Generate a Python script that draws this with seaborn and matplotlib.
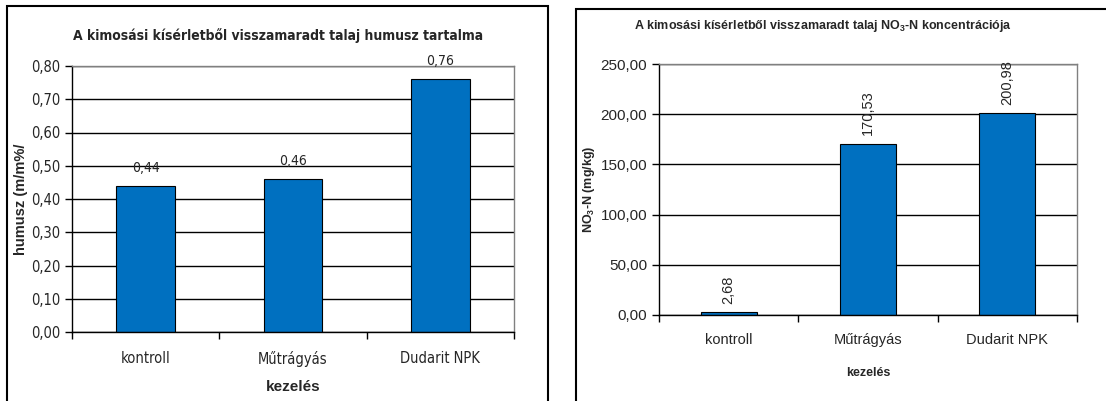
import matplotlib
matplotlib.use("Agg")
import matplotlib.pyplot as plt
from matplotlib import font_manager
from matplotlib.patches import Rectangle
from matplotlib.ticker import FuncFormatter, FixedLocator
import seaborn as sns

# --- data ---------------------------------------------------------------
treatments = ["kontroll", "Műtrágyás", "Dudarit NPK"]
humus = [0.44, 0.46, 0.76]
nitrate = [2.68, 170.53, 200.98]

humus_ticks = [0.0, 0.1, 0.2, 0.3, 0.4, 0.5, 0.6, 0.7, 0.8]
nitrate_ticks = [0, 50, 100, 150, 200, 250]

title_humus = "A kimosási kísérletből visszamaradt talaj humusz tartalma"
title_nitrate = r"A kimosási kísérletből visszamaradt talaj NO$_\mathbf{3}$-N koncentrációja"
ylabel_humus = "humusz (m/m%/"
ylabel_nitrate = r"NO$_\mathbf{3}$-N (mg/kg)"
xlabel = "kezelés"

# --- style --------------------------------------------------------------
sns.set_theme(style="white")


def is_bold(w):
    return w in ("bold", 700, "700")


def is_regular(w):
    return w in ("normal", "regular", 400, "400", "book")


# condensed sans faces for the humus panel (regular + bold), if installed
narrow_regular = narrow_bold = None
cands = []
for f in font_manager.fontManager.ttflist:
    low = (f.name + " " + f.fname).lower()
    if ("narrow" in low or "condensed" in low) and "sans" in low and f.style == "normal" \
            and "oblique" not in low and "italic" not in low:
        cands.append(f)
cands.sort(key=lambda f: 0 if "liberation" in f.fname.lower() else 1)
for f in cands:
    if narrow_regular is None and is_regular(f.weight):
        narrow_regular = f.fname
    if narrow_bold is None and is_bold(f.weight):
        narrow_bold = f.fname

plt.rcParams["font.family"] = ["Liberation Sans", "DejaVu Sans"]
plt.rcParams["mathtext.fontset"] = "custom"
plt.rcParams["mathtext.rm"] = "Liberation Sans"
plt.rcParams["mathtext.bf"] = "Liberation Sans:bold"

BAR = "#0070C0"
W, H = 1106, 401
fig = plt.figure(figsize=(W / 100, H / 100), dpi=100)
fig.patch.set_facecolor("white")


def nfont(size, bold=False):
    path = narrow_bold if bold else narrow_regular
    if path:
        fp = font_manager.FontProperties(fname=path)
    else:
        fp = font_manager.FontProperties(family="Liberation Sans",
                                         weight="bold" if bold else "normal")
    fp.set_size(size)
    return fp


def comma(v, _pos=None):
    return f"{v:.2f}".replace(".", ",")


def frame_axes(ax, ticks, top):
    ax.set_ylim(0, top)
    ax.yaxis.set_major_locator(FixedLocator(ticks))
    ax.yaxis.set_major_formatter(FuncFormatter(comma))
    ax.yaxis.grid(True, color="black", linewidth=1.0)
    ax.xaxis.grid(False)
    ax.set_axisbelow(True)
    for side in ("left", "bottom"):
        ax.spines[side].set_color("black")
        ax.spines[side].set_linewidth(1.0)
    for side in ("top", "right"):
        ax.spines[side].set_color("#808080")
        ax.spines[side].set_linewidth(1.0)
    ax.set_xlim(-0.5, len(treatments) - 0.5)
    ax.set_xticks([-0.5, 0.5, 1.5, 2.5], minor=True)
    ax.tick_params(axis="x", which="minor", length=5, width=1, color="black", direction="out", bottom=True)
    ax.tick_params(axis="x", which="major", length=0)
    ax.tick_params(axis="y", which="major", length=5, width=1, color="black", direction="out", left=True)


def axes_rect(x0, x1, ytop, ybot):
    return [x0 / W, (H - ybot) / H, (x1 - x0) / W, (ybot - ytop) / H]


def fit_width(txt, target_px, max_size):
    """Shrink a text's font size so its rendered width is target_px."""
    renderer = fig.canvas.get_renderer()
    w = txt.get_window_extent(renderer).width
    if w > target_px:
        txt.set_fontsize(max_size * target_px / w)


# --- panel frames ---------------------------------------------------------
fig.add_artist(Rectangle((7 / W, -0.05), (548 - 7) / W, 1.05 - 6 / H,
                         transform=fig.transFigure, fill=False, edgecolor="black", linewidth=1.5))
fig.add_artist(Rectangle((576 / W, -0.05), 0.5, 1.05 - 9 / H,
                         transform=fig.transFigure, fill=False, edgecolor="black", linewidth=1.5))

# --- humus chart --------------------------------------------------------
ax1 = fig.add_axes(axes_rect(72, 514, 66, 332))
sns.barplot(x=treatments, y=humus, ax=ax1, color=BAR, width=0.4,
            edgecolor="black", linewidth=0.8, saturation=1)
frame_axes(ax1, humus_ticks, 0.8)
ax1.bar_label(ax1.containers[0], labels=[comma(v) for v in humus], padding=8,
              fontproperties=nfont(10))
ax1.set_xticks(range(len(treatments)))
ax1.set_xticklabels(treatments, fontproperties=nfont(10.5))
ax1.tick_params(axis="x", which="major", pad=14)
for lab in ax1.get_yticklabels():
    lab.set_fontproperties(nfont(10.5))
ax1.set_xlabel(xlabel, fontsize=11, fontweight="bold", labelpad=9)
ax1.set_ylabel(ylabel_humus, fontsize=10.5, fontweight="bold")
ax1.yaxis.set_label_coords((28 - 72) / 442, 0.5)
t1 = fig.text(278 / W, 1 - 36 / H, title_humus, ha="center", va="center",
              fontproperties=nfont(12.5, bold=True))
fit_width(t1, 415, 12.5)

# --- nitrate chart ------------------------------------------------------
ax2 = fig.add_axes(axes_rect(659, 1077, 64, 315))
sns.barplot(x=treatments, y=nitrate, ax=ax2, color=BAR, width=0.4,
            edgecolor="black", linewidth=0.8, saturation=1)
frame_axes(ax2, nitrate_ticks, 250)
ax2.bar_label(ax2.containers[0], labels=[comma(v) for v in nitrate], padding=6,
              rotation=90, fontsize=10.5)
ax2.set_xticks(range(len(treatments)))
ax2.set_xticklabels(treatments, fontsize=10.5)
ax2.tick_params(axis="x", which="major", pad=13)
ax2.tick_params(axis="y", labelsize=11)
ax2.set_xlabel(xlabel, fontsize=9, fontweight="bold", labelpad=14)
ax2.set_ylabel(ylabel_nitrate, fontsize=9, fontweight="bold")
ax2.yaxis.set_label_coords((597 - 659) / 418, 0.5)
t2 = fig.text(823 / W, 1 - 26 / H, title_nitrate, ha="center", va="center",
              fontsize=9, fontweight="bold")

fig.savefig("out.png", dpi=100, facecolor="white")
